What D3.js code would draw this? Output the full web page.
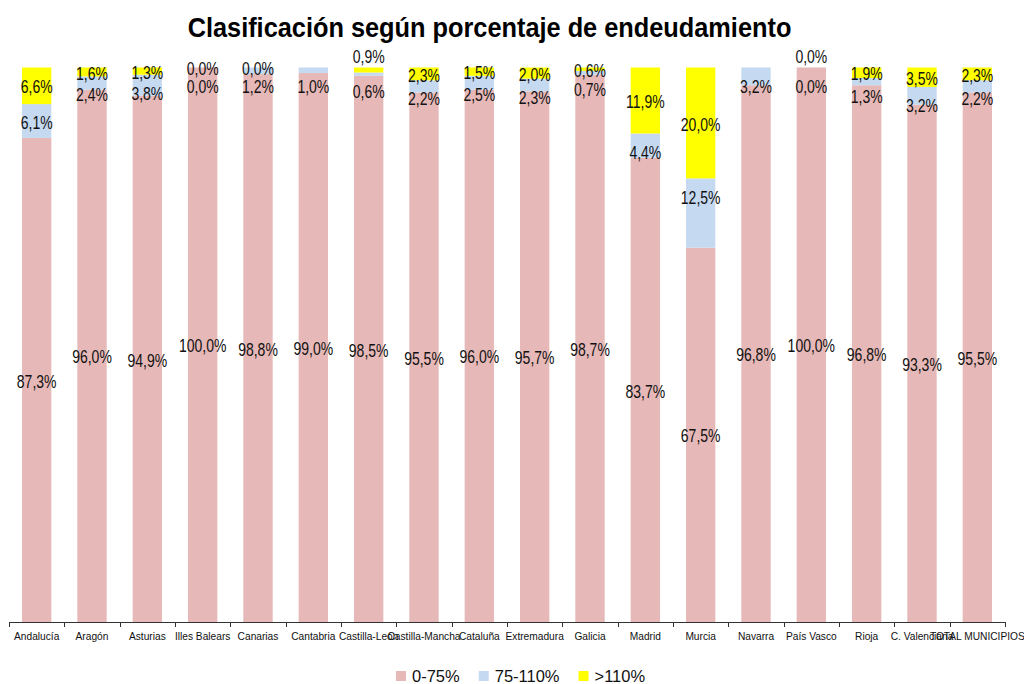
<!DOCTYPE html>
<html>
<head>
<meta charset="utf-8">
<script src="https://cdn.jsdelivr.net/npm/d3@7"></script>
<style>
  html, body { margin: 0; padding: 0; background: #fff; }
  svg { display: block; font-family: "Liberation Sans", Arial, sans-serif; }
</style>
</head>
<body>
<svg id="chart" width="1024" height="684"></svg>
<script>
// Comunidades autónomas + total
const categories = ["Andalucía", "Aragón", "Asturias", "Illes Balears", "Canarias", "Cantabria",
  "Castilla-León", "Castilla-Mancha", "Cataluña", "Extremadura", "Galicia", "Madrid", "Murcia",
  "Navarra", "País Vasco", "Rioja", "C. Valenciana", "TOTAL MUNICIPIOS"];

// Porcentaje de municipios en cada tramo de endeudamiento
const tramo0_75   = [87.3, 96.0, 94.9, 100.0, 98.8, 99.0, 98.5, 95.5, 96.0, 95.7, 98.7, 83.7, 67.5, 96.8, 100.0, 96.8, 93.3, 95.5];
const tramo75_110 = [6.1, 2.4, 3.8, 0.0, 1.2, 1.0, 0.6, 2.2, 2.5, 2.3, 0.7, 4.4, 12.5, 3.2, 0.0, 1.3, 3.2, 2.2];
const tramo110    = [6.6, 1.6, 1.3, 0.0, 0.0, null, 0.9, 2.3, 1.5, 2.0, 0.6, 11.9, 20.0, null, 0.0, 1.9, 3.5, 2.3];

const seriesNames = ["0-75%", "75-110%", ">110%"];
const seriesColors = ["#E6B8B7", "#C5D9F1", "#FFFF00"];

// Etiquetas del tramo superior que se muestran encima de la columna
const raisedTopLabels = ["Castilla-León", "País Vasco"];

const svg = d3.select("#chart");
const W = 1024, H = 684;
const plot = { left: 9, right: 1005, top: 67.5, bottom: 622 };

const rows = categories.map((c, i) => ({
  cat: c, s0: tramo0_75[i], s1: tramo75_110[i], s2: tramo110[i]
}));

const x = d3.scaleBand()
  .domain(categories)
  .range([plot.left, plot.right])
  .paddingInner(0.47)
  .paddingOuter(0.235);

const y = d3.scaleLinear().domain([0, 100]).range([plot.bottom, plot.top]);

const stack = d3.stack()
  .keys(["s0", "s1", "s2"])
  .value((d, k) => d[k] == null ? 0 : d[k]);
const stacked = stack(rows);

// Columnas apiladas
const layers = svg.append("g").selectAll("g")
  .data(stacked)
  .join("g")
  .attr("fill", (d, i) => seriesColors[i]);

layers.selectAll("rect")
  .data(d => d)
  .join("rect")
  .attr("x", d => x(d.data.cat))
  .attr("width", x.bandwidth())
  .attr("y", d => y(d[1]))
  .attr("height", d => Math.max(0, y(d[0]) - y(d[1])));

// Eje de categorías
const axisG = svg.append("g").attr("transform", `translate(0,${plot.bottom})`);
axisG.append("line")
  .attr("x1", plot.left).attr("x2", plot.right)
  .attr("y1", 0.5).attr("y2", 0.5)
  .attr("stroke", "#333").attr("stroke-width", 1);
const boundaries = categories.map(c => x(c) - x.step() * x.paddingInner() / 2).concat([plot.right]);
axisG.selectAll("line.tick")
  .data(boundaries)
  .join("line")
  .attr("class", "tick")
  .attr("x1", d => Math.round(d) + 0.5).attr("x2", d => Math.round(d) + 0.5)
  .attr("y1", 0).attr("y2", 5)
  .attr("stroke", "#333");
axisG.selectAll("text")
  .data(categories)
  .join("text")
  .attr("transform", d => `translate(${x(d) + x.bandwidth() / 2},18) scale(0.88,1)`)
  .attr("text-anchor", "middle")
  .attr("font-size", "11.6px")
  .attr("fill", "#111")
  .text(d => d);

// Etiquetas de datos
const fmt = v => d3.format(".1f")(v).replace(".", ",") + "%";
const labels = [];
stacked.forEach((layer, si) => {
  layer.forEach(d => {
    const key = ["s0", "s1", "s2"][si];
    const v = d.data[key];
    if (v == null) return;
    const cx = x(d.data.cat) + x.bandwidth() / 2;
    let ly;
    if (si === 0) {
      ly = (y(d[0]) + y(d[1])) / 2 + 1.5;
    } else if (si === 1) {
      ly = y(d[1]) + 19;
    } else {
      ly = raisedTopLabels.includes(d.data.cat)
        ? y(d[1]) - 11
        : (y(d[0]) + y(d[1])) / 2 + 1.5;
    }
    labels.push({ cx, ly, text: fmt(v) });
  });
});

svg.append("g").selectAll("text")
  .data(labels)
  .join("text")
  .attr("transform", d => `translate(${d.cx},${d.ly}) scale(0.8,1)`)
  .attr("text-anchor", "middle")
  .attr("dy", "0.35em")
  .attr("font-size", "17.5px")
  .attr("fill", "#111")
  .text(d => d.text);

// Título
svg.append("text")
  .attr("transform", "translate(489.5,37) scale(0.905,1)")
  .attr("text-anchor", "middle")
  .attr("font-size", "28px")
  .attr("font-weight", "bold")
  .attr("fill", "#000")
  .text("Clasificación según porcentaje de endeudamiento");

// Leyenda
const legend = svg.append("g");
let lx = 396;
seriesNames.forEach((name, i) => {
  legend.append("rect")
    .attr("x", lx).attr("y", 671)
    .attr("width", 10).attr("height", 10)
    .attr("fill", seriesColors[i]);
  const t = legend.append("text")
    .attr("x", lx + 16).attr("y", 681.5)
    .attr("font-size", "16.5px")
    .attr("fill", "#111")
    .text(name);
  lx += 16 + t.node().getComputedTextLength() + 19;
});
</script>
</body>
</html>
